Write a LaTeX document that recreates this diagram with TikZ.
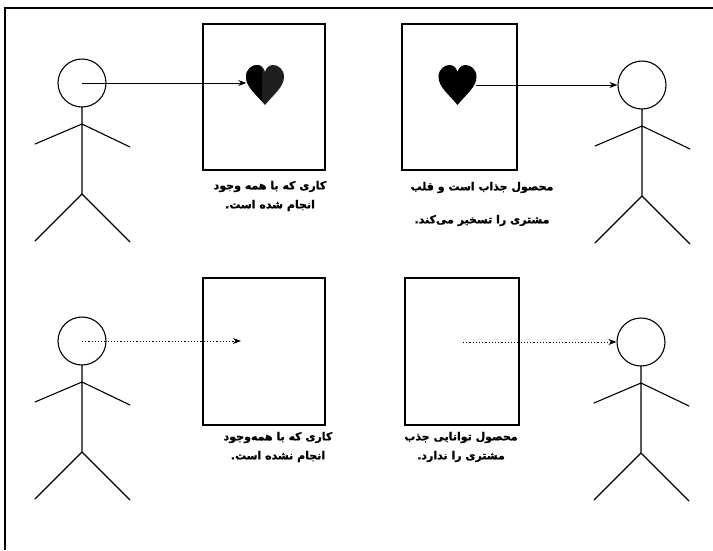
\documentclass[tikz,border=0pt]{standalone}
\usepackage{fontspec}
\usetikzlibrary{arrows.meta}
\newfontfamily\fatext[Script=Arabic, BoldFeatures={FakeBold=1.2}]{DejaVu Sans}
\TeXXeTstate=1

\tikzset{
  figline/.style={line width=1.1pt, line cap=round},
  panel/.style={draw, line width=1.4pt, inner sep=0pt},
  heartspot/.style={inner sep=0pt, minimum width=37pt, minimum height=40pt},
  caption/.style={align=center, inner sep=0pt,
    font=\fatext\bfseries\fontsize{11}{19}\selectfont},
  solidarrow/.style={line width=0.9pt, -{Stealth[length=8pt,width=6pt]}},
  dotarrow/.style={line width=1pt, dash pattern=on 1.2pt off 2pt,
    -{Stealth[length=8pt,width=6pt]}},
  heartoutline/.style={insert path={
    (0,20) .. controls (-8,10) and (-19,2) .. (-19,-8)
    .. controls (-19,-16) and (-13,-20) .. (-8,-20)
    .. controls (-4,-20) and (-1,-17) .. (0,-13)
    .. controls (1,-17) and (4,-20) .. (8,-20)
    .. controls (13,-20) and (19,-16) .. (19,-8)
    .. controls (19,2) and (8,10) .. (0,20) -- cycle}},
  % stick figure: head named <name>-head, body hanging below it
  stickman/.pic={
    \node[circle, draw, line width=1.1pt, minimum size=48pt, inner sep=0pt] (-head) at (0,0) {};
    \draw[figline] (0,24) -- (0,41)
      (-47,61) -- (0,41) -- (48,64)
      (0,41) -- (0,111)
      (-47,158) -- (0,111) -- (48,159);
  },
  % heart with a black left half and a very dark right half
  twotoneheart/.pic={
    \fill[black!88, heartoutline];
    \begin{scope}
      \clip (-25,-25) rectangle (-3,25);
      \fill[black, heartoutline];
    \end{scope}
  },
  blackheart/.pic={
    \fill[black, heartoutline];
  }
}

\begin{document}
\begin{tikzpicture}[x=1pt, y=-1pt]
  \useasboundingbox (0,0) rectangle (713,550);
  \fill[white] (0,0) rectangle (713,550);

  % frame edges
  \draw[line width=1.8pt] (5,550) -- (5,8) -- (713,8);

  % panels
  \node[panel, minimum width=122pt, minimum height=146pt] (b1) at (264,97) {};
  \node[panel, minimum width=115pt, minimum height=146pt] (b2) at (459.5,97) {};
  \node[panel, minimum width=122pt, minimum height=147pt] (b3) at (264,351.5) {};
  \node[panel, minimum width=114pt, minimum height=147pt] (b4) at (462,351.5) {};

  % hearts
  \node[heartspot] (h1) at (265,85) {};
  \pic at (h1) {twotoneheart};
  \node[heartspot] (h2) at (457.5,85) {};
  \pic at (h2) {blackheart};

  % people
  \pic (tl) at (82,83) {stickman};
  \pic (tr) at (642,85) {stickman};
  \pic (bl) at (82,341) {stickman};
  \pic (br) at (641,342) {stickman};

  % connectors
  \draw[solidarrow] (tl-head.center) -- (tl-head.center -| h1.west);
  \draw[solidarrow] (h2.east) -- (tr-head.west);
  \coordinate (bend) at (241,341);
  \draw[dotarrow] (bl-head.center) -- (bend);
  \coordinate (bstart) at (463,342);
  \draw[dotarrow] (bstart) -- (br-head.west);

  % captions
  \node[caption] (c1) at (270,196)
    {\beginR کاری که با همه وجود\endR\\\beginR انجام شده است.\endR};
  \node[caption] (c2) at (482,204)
    {\beginR محصول جذاب است و قلب\endR\\[14pt]\beginR مشتری را تسخیر می‌کند.\endR};
  \node[caption] (c3) at (278,447)
    {\beginR کاری که با همه‌وجود\endR\\\beginR انجام نشده است.\endR};
  \node[caption] (c4) at (461,447)
    {\beginR محصول توانایی جذب\endR\\\beginR مشتری را ندارد.\endR};
\end{tikzpicture}
\end{document}
